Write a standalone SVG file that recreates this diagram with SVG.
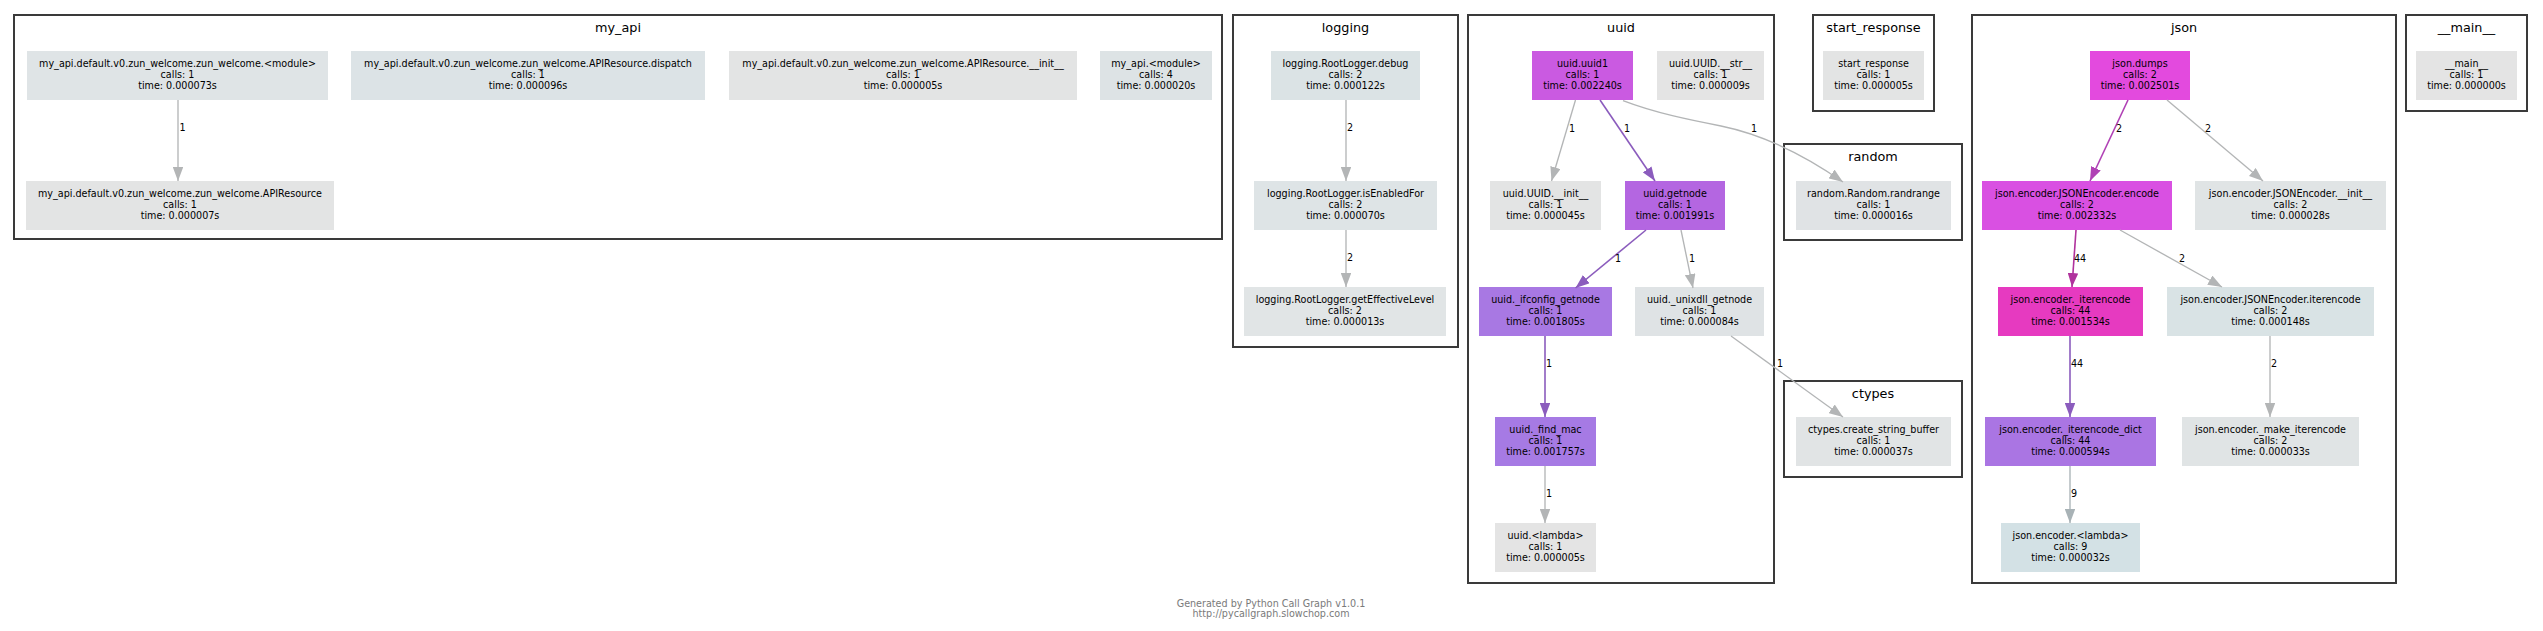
<svg xmlns="http://www.w3.org/2000/svg" width="2543" height="631" viewBox="0 0 2543 631">
<style>
.bg{fill:#ffffff}
.cl{fill:none;stroke:#3a3a3a;stroke-width:2}
.ct{font-family:"DejaVu Sans","Liberation Sans",sans-serif;font-size:12.8px;fill:#000;text-anchor:middle}
.nt{font-family:"DejaVu Sans","Liberation Sans",sans-serif;font-size:9.6px;fill:#000;text-anchor:middle}
.el{font-family:"DejaVu Sans","Liberation Sans",sans-serif;font-size:9.6px;fill:#000}
.elm{text-anchor:middle}
.e{fill:none;stroke-width:1.33}
.g{stroke:#b3b5b6}
.p{stroke:#8b5cbd;stroke-width:1.6}
.m{stroke:#b041b5;stroke-width:1.6}
.k{stroke:#b0339d;stroke-width:1.6}
.b{stroke:#a8b2b6}
.ft{font-family:"DejaVu Sans","Liberation Sans",sans-serif;font-size:9.6px;fill:#7a7a7a;text-anchor:middle}
</style>
<defs>
<marker id="ag" viewBox="0 0 14 10.6" refX="14" refY="5.3" markerWidth="14" markerHeight="10.6" markerUnits="userSpaceOnUse" orient="auto"><path d="M0,0 L14,5.3 L0,10.6 z" fill="#b3b5b6"/></marker>
<marker id="ap" viewBox="0 0 14 10.6" refX="14" refY="5.3" markerWidth="14" markerHeight="10.6" markerUnits="userSpaceOnUse" orient="auto"><path d="M0,0 L14,5.3 L0,10.6 z" fill="#8b5cbd"/></marker>
<marker id="am" viewBox="0 0 14 10.6" refX="14" refY="5.3" markerWidth="14" markerHeight="10.6" markerUnits="userSpaceOnUse" orient="auto"><path d="M0,0 L14,5.3 L0,10.6 z" fill="#b041b5"/></marker>
<marker id="ak" viewBox="0 0 14 10.6" refX="14" refY="5.3" markerWidth="14" markerHeight="10.6" markerUnits="userSpaceOnUse" orient="auto"><path d="M0,0 L14,5.3 L0,10.6 z" fill="#b0339d"/></marker>
<marker id="ab" viewBox="0 0 14 10.6" refX="14" refY="5.3" markerWidth="14" markerHeight="10.6" markerUnits="userSpaceOnUse" orient="auto"><path d="M0,0 L14,5.3 L0,10.6 z" fill="#a8b2b6"/></marker>
</defs>
<rect class="bg" x="0" y="0" width="2543" height="631"/>

<g id="clusters">
<g id="cluster-my_api"><rect class="cl" x="14" y="15" width="1208" height="224"/><text class="ct" x="618" y="32">my_api</text></g>
<g id="cluster-logging"><rect class="cl" x="1233" y="15" width="225" height="332"/><text class="ct" x="1345.5" y="32">logging</text></g>
<g id="cluster-uuid"><rect class="cl" x="1468" y="15" width="306" height="568"/><text class="ct" x="1621" y="32">uuid</text></g>
<g id="cluster-start_response"><rect class="cl" x="1813" y="15" width="121" height="96"/><text class="ct" x="1873.5" y="32">start_response</text></g>
<g id="cluster-random"><rect class="cl" x="1784" y="144" width="178" height="96"/><text class="ct" x="1873" y="161">random</text></g>
<g id="cluster-ctypes"><rect class="cl" x="1784" y="381" width="178" height="96"/><text class="ct" x="1873" y="398">ctypes</text></g>
<g id="cluster-json"><rect class="cl" x="1972" y="15" width="424" height="568"/><text class="ct" x="2184" y="32">json</text></g>
<g id="cluster-main"><rect class="cl" x="2406" y="15" width="121" height="96"/><text class="ct" x="2466.5" y="32">__main__</text></g>
</g>

<g id="nodes">
<g id="n-zw-module"><rect x="27" y="51" width="301" height="49" fill="#dfe4e6"/><text class="nt"><tspan x="177.5" y="66.6">my_api.default.v0.zun_welcome.zun_welcome.&lt;module&gt;</tspan><tspan x="177.5" y="77.8">calls: 1</tspan><tspan x="177.5" y="89">time: 0.000073s</tspan></text></g>
<g id="n-zw-dispatch"><rect x="351" y="51" width="354" height="49" fill="#dce3e6"/><text class="nt"><tspan x="528" y="66.6">my_api.default.v0.zun_welcome.zun_welcome.APIResource.dispatch</tspan><tspan x="528" y="77.8">calls: 1</tspan><tspan x="528" y="89">time: 0.000096s</tspan></text></g>
<g id="n-zw-init"><rect x="729" y="51" width="348" height="49" fill="#e3e4e4"/><text class="nt"><tspan x="903" y="66.6">my_api.default.v0.zun_welcome.zun_welcome.APIResource.__init__</tspan><tspan x="903" y="77.8">calls: 1</tspan><tspan x="903" y="89">time: 0.000005s</tspan></text></g>
<g id="n-myapi-module"><rect x="1100" y="51" width="112" height="49" fill="#dde3e5"/><text class="nt"><tspan x="1156" y="66.6">my_api.&lt;module&gt;</tspan><tspan x="1156" y="77.8">calls: 4</tspan><tspan x="1156" y="89">time: 0.000020s</tspan></text></g>
<g id="n-zw-apiresource"><rect x="26" y="181" width="308" height="49" fill="#e3e4e4"/><text class="nt"><tspan x="180" y="196.6">my_api.default.v0.zun_welcome.zun_welcome.APIResource</tspan><tspan x="180" y="207.8">calls: 1</tspan><tspan x="180" y="219">time: 0.000007s</tspan></text></g>

<g id="n-log-debug"><rect x="1271" y="51" width="149" height="49" fill="#dbe3e5"/><text class="nt"><tspan x="1345.5" y="66.6">logging.RootLogger.debug</tspan><tspan x="1345.5" y="77.8">calls: 2</tspan><tspan x="1345.5" y="89">time: 0.000122s</tspan></text></g>
<g id="n-log-isenabledfor"><rect x="1254" y="181" width="183" height="49" fill="#dee4e6"/><text class="nt"><tspan x="1345.5" y="196.6">logging.RootLogger.isEnabledFor</tspan><tspan x="1345.5" y="207.8">calls: 2</tspan><tspan x="1345.5" y="219">time: 0.000070s</tspan></text></g>
<g id="n-log-geteffectivelevel"><rect x="1244" y="287" width="202" height="49" fill="#e1e5e6"/><text class="nt"><tspan x="1345" y="302.6">logging.RootLogger.getEffectiveLevel</tspan><tspan x="1345" y="313.8">calls: 2</tspan><tspan x="1345" y="325">time: 0.000013s</tspan></text></g>

<g id="n-uuid-uuid1"><rect x="1532" y="51" width="101" height="49" fill="#ca5ae1"/><text class="nt"><tspan x="1582.5" y="66.6">uuid.uuid1</tspan><tspan x="1582.5" y="77.8">calls: 1</tspan><tspan x="1582.5" y="89">time: 0.002240s</tspan></text></g>
<g id="n-uuid-str"><rect x="1657" y="51" width="107" height="49" fill="#e4e4e4"/><text class="nt"><tspan x="1710.5" y="66.6">uuid.UUID.__str__</tspan><tspan x="1710.5" y="77.8">calls: 1</tspan><tspan x="1710.5" y="89">time: 0.000009s</tspan></text></g>
<g id="n-uuid-init"><rect x="1490" y="181" width="111" height="49" fill="#e3e4e4"/><text class="nt"><tspan x="1545.5" y="196.6">uuid.UUID.__init__</tspan><tspan x="1545.5" y="207.8">calls: 1</tspan><tspan x="1545.5" y="219">time: 0.000045s</tspan></text></g>
<g id="n-uuid-getnode"><rect x="1625" y="181" width="100" height="49" fill="#b466e1"/><text class="nt"><tspan x="1675" y="196.6">uuid.getnode</tspan><tspan x="1675" y="207.8">calls: 1</tspan><tspan x="1675" y="219">time: 0.001991s</tspan></text></g>
<g id="n-uuid-ifconfig"><rect x="1479" y="287" width="133" height="49" fill="#a878e3"/><text class="nt"><tspan x="1545.5" y="302.6">uuid._ifconfig_getnode</tspan><tspan x="1545.5" y="313.8">calls: 1</tspan><tspan x="1545.5" y="325">time: 0.001805s</tspan></text></g>
<g id="n-uuid-unixdll"><rect x="1635" y="287" width="129" height="49" fill="#dfe3e5"/><text class="nt"><tspan x="1699.5" y="302.6">uuid._unixdll_getnode</tspan><tspan x="1699.5" y="313.8">calls: 1</tspan><tspan x="1699.5" y="325">time: 0.000084s</tspan></text></g>
<g id="n-uuid-findmac"><rect x="1495" y="417" width="101" height="49" fill="#a67ae4"/><text class="nt"><tspan x="1545.5" y="432.6">uuid._find_mac</tspan><tspan x="1545.5" y="443.8">calls: 1</tspan><tspan x="1545.5" y="455">time: 0.001757s</tspan></text></g>
<g id="n-uuid-lambda"><rect x="1495" y="523" width="101" height="49" fill="#e4e4e4"/><text class="nt"><tspan x="1545.5" y="538.6">uuid.&lt;lambda&gt;</tspan><tspan x="1545.5" y="549.8">calls: 1</tspan><tspan x="1545.5" y="561">time: 0.000005s</tspan></text></g>

<g id="n-start-response"><rect x="1823" y="51" width="101" height="49" fill="#e3e4e4"/><text class="nt"><tspan x="1873.5" y="66.6">start_response</tspan><tspan x="1873.5" y="77.8">calls: 1</tspan><tspan x="1873.5" y="89">time: 0.000005s</tspan></text></g>
<g id="n-random-randrange"><rect x="1796" y="181" width="155" height="49" fill="#e0e3e5"/><text class="nt"><tspan x="1873.5" y="196.6">random.Random.randrange</tspan><tspan x="1873.5" y="207.8">calls: 1</tspan><tspan x="1873.5" y="219">time: 0.000016s</tspan></text></g>
<g id="n-ctypes-csb"><rect x="1796" y="417" width="155" height="49" fill="#e1e4e5"/><text class="nt"><tspan x="1873.5" y="432.6">ctypes.create_string_buffer</tspan><tspan x="1873.5" y="443.8">calls: 1</tspan><tspan x="1873.5" y="455">time: 0.000037s</tspan></text></g>

<g id="n-json-dumps"><rect x="2090" y="51" width="100" height="49" fill="#e34ade"/><text class="nt"><tspan x="2140" y="66.6">json.dumps</tspan><tspan x="2140" y="77.8">calls: 2</tspan><tspan x="2140" y="89">time: 0.002501s</tspan></text></g>
<g id="n-json-encode"><rect x="1982" y="181" width="190" height="49" fill="#d950e2"/><text class="nt"><tspan x="2077" y="196.6">json.encoder.JSONEncoder.encode</tspan><tspan x="2077" y="207.8">calls: 2</tspan><tspan x="2077" y="219">time: 0.002332s</tspan></text></g>
<g id="n-json-encinit"><rect x="2195" y="181" width="191" height="49" fill="#e0e4e5"/><text class="nt"><tspan x="2290.5" y="196.6">json.encoder.JSONEncoder.__init__</tspan><tspan x="2290.5" y="207.8">calls: 2</tspan><tspan x="2290.5" y="219">time: 0.000028s</tspan></text></g>
<g id="n-json-iterencode-fn"><rect x="1998" y="287" width="145" height="49" fill="#e63ac0"/><text class="nt"><tspan x="2070.5" y="302.6">json.encoder._iterencode</tspan><tspan x="2070.5" y="313.8">calls: 44</tspan><tspan x="2070.5" y="325">time: 0.001534s</tspan></text></g>
<g id="n-json-enc-iterencode"><rect x="2167" y="287" width="207" height="49" fill="#d9e3e5"/><text class="nt"><tspan x="2270.5" y="302.6">json.encoder.JSONEncoder.iterencode</tspan><tspan x="2270.5" y="313.8">calls: 2</tspan><tspan x="2270.5" y="325">time: 0.000148s</tspan></text></g>
<g id="n-json-iterdict"><rect x="1985" y="417" width="171" height="49" fill="#aa75e3"/><text class="nt"><tspan x="2070.5" y="432.6">json.encoder._iterencode_dict</tspan><tspan x="2070.5" y="443.8">calls: 44</tspan><tspan x="2070.5" y="455">time: 0.000594s</tspan></text></g>
<g id="n-json-make"><rect x="2182" y="417" width="177" height="49" fill="#e0e4e5"/><text class="nt"><tspan x="2270.5" y="432.6">json.encoder._make_iterencode</tspan><tspan x="2270.5" y="443.8">calls: 2</tspan><tspan x="2270.5" y="455">time: 0.000033s</tspan></text></g>
<g id="n-json-lambda"><rect x="2001" y="523" width="139" height="49" fill="#d3e1e5"/><text class="nt"><tspan x="2070.5" y="538.6">json.encoder.&lt;lambda&gt;</tspan><tspan x="2070.5" y="549.8">calls: 9</tspan><tspan x="2070.5" y="561">time: 0.000032s</tspan></text></g>

<g id="n-main"><rect x="2416" y="51" width="101" height="49" fill="#e4e4e4"/><text class="nt"><tspan x="2466.5" y="66.6">__main__</tspan><tspan x="2466.5" y="77.8">calls: 1</tspan><tspan x="2466.5" y="89">time: 0.000000s</tspan></text></g>
</g>

<g id="connectors">
<path class="e g" d="M178,100 L178,181" marker-end="url(#ag)"/>
<text class="el" x="179.5" y="131">1</text>

<path class="e g" d="M1346,100 L1346,181" marker-end="url(#ag)"/>
<text class="el" x="1347" y="131">2</text>
<path class="e g" d="M1346,230 L1346,287" marker-end="url(#ag)"/>
<text class="el" x="1347" y="261">2</text>

<path class="e g" d="M1575.5,100 L1551.5,181" marker-end="url(#ag)"/>
<text class="el elm" x="1572" y="131.5">1</text>
<path class="e p" d="M1600,100 L1655,181" marker-end="url(#ap)"/>
<text class="el elm" x="1627" y="131.5">1</text>
<path class="e g" d="M1623,100.7 C1655,113 1690,120 1721,126 C1760,134 1800,152 1843,182" marker-end="url(#ag)"/>
<text class="el elm" x="1754" y="131.5">1</text>
<path class="e p" d="M1646,230 L1575.5,288" marker-end="url(#ap)"/>
<text class="el elm" x="1618" y="261.5">1</text>
<path class="e g" d="M1681,230 L1693,288" marker-end="url(#ag)"/>
<text class="el elm" x="1692" y="261.5">1</text>
<path class="e p" d="M1545,336 L1545,417" marker-end="url(#ap)"/>
<text class="el" x="1546" y="366.5">1</text>
<path class="e g" d="M1731,336 L1843,417" marker-end="url(#ag)"/>
<text class="el elm" x="1780" y="366.5">1</text>
<path class="e g" d="M1545,466 L1545,523" marker-end="url(#ag)"/>
<text class="el" x="1546" y="496.5">1</text>

<path class="e m" d="M2128,100 L2090,181" marker-end="url(#am)"/>
<text class="el elm" x="2119" y="131.5">2</text>
<path class="e g" d="M2167,100 L2263,181" marker-end="url(#ag)"/>
<text class="el elm" x="2208" y="131.5">2</text>
<path class="e k" d="M2076,230 L2072,287" marker-end="url(#ak)"/>
<text class="el" x="2074" y="261.5">44</text>
<path class="e g" d="M2120,230 L2222,287" marker-end="url(#ag)"/>
<text class="el elm" x="2182" y="261.5">2</text>
<path class="e p" d="M2070,336 L2070,417" marker-end="url(#ap)"/>
<text class="el" x="2071" y="366.5">44</text>
<path class="e g" d="M2270,336 L2270,417" marker-end="url(#ag)"/>
<text class="el" x="2271" y="366.5">2</text>
<path class="e b" d="M2070,466 L2070,523" marker-end="url(#ab)"/>
<text class="el" x="2071" y="496.5">9</text>
</g>

<g id="footer">
<text class="ft" x="1271" y="606.5">Generated by Python Call Graph v1.0.1</text>
<text class="ft" x="1271" y="617">http://pycallgraph.slowchop.com</text>
</g>
</svg>
